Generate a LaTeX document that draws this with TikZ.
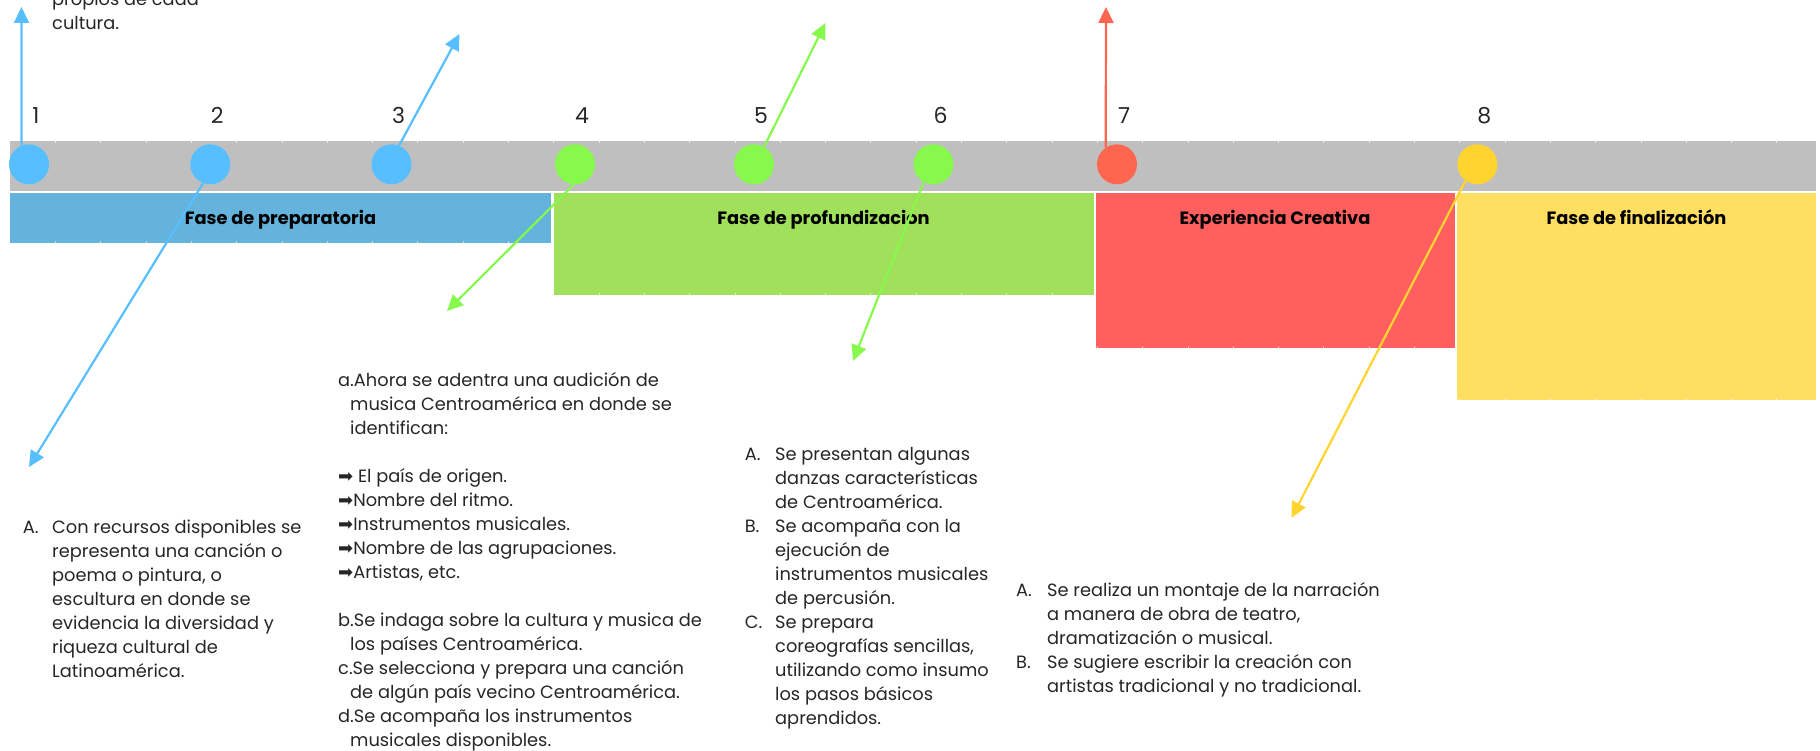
\documentclass[tikz,border=0pt]{standalone}
\usepackage{fontspec}
\setmainfont{Poppins}
\newfontfamily\arrowfont{DejaVu Sans}
\usetikzlibrary{arrows.meta}

\definecolor{stripgray}{HTML}{BFBFBF}
\definecolor{barblue}{HTML}{63B3DD}
\definecolor{bargreen}{HTML}{A0E05A}
\definecolor{barred}{HTML}{FF5F5F}
\definecolor{baryellow}{HTML}{FFDF61}
\definecolor{dotblue}{HTML}{57BFFF}
\definecolor{dotgreen}{HTML}{87F84C}
\definecolor{dotred}{HTML}{FF6650}
\definecolor{dotyellow}{HTML}{FFD42F}

\newcommand{\arr}{{\arrowfont\fontsize{18}{24}\selectfont ➡}}
\newcommand{\cont}{\hspace*{12pt}}

\tikzset{
  milestone/.style={circle, fill=#1, minimum size=40pt, inner sep=0pt},
  numlabel/.style={anchor=base, inner sep=0pt, text=black!85, font=\fontsize{22}{26}\selectfont},
  phaselabel/.style={anchor=base, inner sep=0pt, text=black, font=\bfseries\fontsize{17.8}{22}\selectfont},
  linkarrow/.style={draw=#1, line width=2.2pt, -{Triangle[length=16pt,width=15pt]}},
  notes/.style={anchor=north west, inner sep=0pt, text=black!85, font=\fontsize{17.8}{24}\selectfont},
}

\begin{document}
\begin{tikzpicture}[x=1pt, y=-1pt]
    \useasboundingbox (0,0) rectangle (1820,751);
    \clip (0,0) rectangle (1820,751);

    % timeline strip
    \fill[stripgray] (10,141) rectangle (1816,191);
    \foreach \x in {55.3,100.6,...,1800}
        \draw[white!70!stripgray, line width=0.6pt] (\x,141) -- (\x,143);

    % phase bars with their ticks
    \foreach \xa/\xb/\yb/\col in {10/551/243.5/barblue, 553.5/1093.5/295/bargreen,
                                  1095.5/1455/347.5/barred, 1457/1816/400/baryellow} {
        \fill[\col] (\xa,193.5) rectangle (\xb,\yb);
        \begin{scope}
            \clip (\xa,193.5) rectangle (\xb,\yb);
            \foreach \x in {55.3,100.6,...,1800}
                \draw[white!60!\col, line width=0.6pt] (\x,\yb) -- (\x,\yb-2);
        \end{scope}
    }
    \node[phaselabel] (prep) at (280.5,224.3) {Fase de preparatoria};
    \node[phaselabel] (prof) at (823.5,224.3) {Fase de profundizacion};
    \node[phaselabel] (crea) at (1275,224.3) {Experiencia Creativa};
    \node[phaselabel] (fina) at (1636.5,224.3) {Fase de finalización};

    % milestones and their numbers
    \foreach \x/\col [count=\i] in {29/dotblue, 210.3/dotblue, 391.5/dotblue, 575/dotgreen,
                                    754/dotgreen, 933.5/dotgreen, 1117/dotred, 1477.4/dotyellow} {
        \node[milestone=\col] (m\i) at (\x,164.3) {};
        \node[numlabel] (n\i) at (\x+7,124) {\i};
    }

    % free ends of the connectors
    \coordinate (tip1) at (21.5,7);
    \coordinate (tip2) at (29,467);
    \coordinate (tip3) at (459.5,34);
    \coordinate (tip4) at (447,311);
    \coordinate (tip5) at (825.5,23);
    \coordinate (tip6) at (853,361);
    \coordinate (tip7) at (1106,7);
    \coordinate (tip8) at (1291.5,518);

    \draw[linkarrow=dotblue] (m1.112) -- (tip1);
    \draw[linkarrow=dotblue] (m2.249) -- (tip2);
    \draw[linkarrow=dotblue] (m3.68) -- (tip3);
    \draw[linkarrow=dotgreen] (m4.267) -- (tip4);
    \draw[linkarrow=dotgreen] (m5.60) -- (tip5);
    \draw[linkarrow=dotgreen] (m6.241) -- (tip6);
    \draw[linkarrow=dotred] (m7.124) -- (tip7);
    \draw[linkarrow=dotyellow] (m8.234) -- (tip8);

    % texts
    \node[notes] (topnote) at (52,-11.8) {\begin{tabular}{@{}l@{}}
        propios de cada\\
        cultura.
    \end{tabular}};

    \node[notes] (prepnote) at (22.6,516.4) {\begin{tabular}{@{}p{29.4pt}@{}l@{}}
        A. & Con recursos disponibles se\\
           & representa una canción o\\
           & poema o pintura, o\\
           & escultura en donde se\\
           & evidencia la diversidad y\\
           & riqueza cultural de\\
           & Latinoamérica.
    \end{tabular}};

    \node[notes] (profnote) at (338,369.4) {\begin{tabular}{@{}l@{}}
        a.Ahora se adentra una audición de\\
        \cont musica Centroamérica en donde se\\
        \cont identifican:\\
        \\
        \arr{} El país de origen.\\
        \arr{}Nombre del ritmo.\\
        \arr{}Instrumentos musicales.\\
        \arr{}Nombre de las agrupaciones.\\
        \arr{}Artistas, etc.\\
        \\
        b.Se indaga sobre la cultura y musica de\\
        \cont los países Centroamérica.\\
        c.Se selecciona y prepara una canción\\
        \cont de algún país vecino Centroamérica.\\
        d.Se acompaña los instrumentos\\
        \cont musicales disponibles.
    \end{tabular}};

    \node[notes] (dancenote) at (744.6,443.2) {\begin{tabular}{@{}p{30.4pt}@{}l@{}}
        A. & Se presentan algunas\\
           & danzas características\\
           & de Centroamérica.\\
        B. & Se acompaña con la\\
           & ejecución de\\
           & instrumentos musicales\\
           & de percusión.\\
        C. & Se prepara\\
           & coreografías sencillas,\\
           & utilizando como insumo\\
           & los pasos básicos\\
           & aprendidos.
    \end{tabular}};

    \node[notes] (finanote) at (1016,579.7) {\begin{tabular}{@{}p{31pt}@{}l@{}}
        A. & Se realiza un montaje de la narración\\
           & a manera de obra de teatro,\\
           & dramatización o musical.\\
        B. & Se sugiere escribir la creación con\\
           & artistas tradicional y no tradicional.
    \end{tabular}};
\end{tikzpicture}
\end{document}
